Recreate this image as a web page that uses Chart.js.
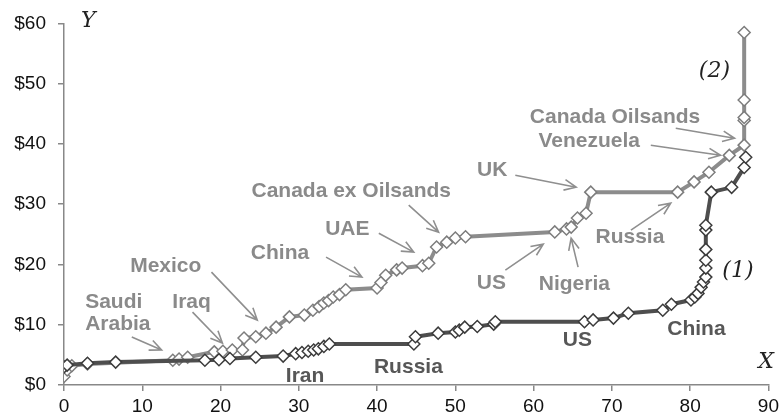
<!DOCTYPE html>
<html>
<head>
<meta charset="utf-8">
<script src="https://cdn.jsdelivr.net/npm/chart.js@4"></script>
<style>
  html, body { margin: 0; padding: 0; background: #fff; }
  #wrap { width: 783px; height: 415px; }
</style>
</head>
<body>
<div id="wrap"><canvas id="supplyChart" width="783" height="415"></canvas></div>
<script>
// series (1): dark curve
const xDark = [0, 0.4, 3, 6.6, 18, 19.8, 21.2, 24.5, 28, 29.6, 30.4, 31.2, 31.9, 32.5, 33.2, 33.9,
  44.7, 44.9, 47.8, 50, 50.5, 51.2, 52.8, 54.9, 55.1, 66.5, 67.6, 70.2, 72.1, 76.5, 77.6,
  80.1, 80.6, 81, 81.4, 81.7, 82, 82, 82, 82, 82, 82, 82.7, 85.3, 86.9, 87.1];
const yDark = [3.0, 3.3, 3.6, 3.8, 4.1, 4.2, 4.4, 4.6, 4.8, 5.2, 5.4, 5.6, 5.8, 6.0, 6.4, 6.8,
  6.8, 8.0, 8.6, 8.8, 9.1, 9.6, 9.7, 10.1, 10.5, 10.5, 10.8, 11.1, 11.9, 12.4, 13.4,
  14.1, 14.6, 15.2, 16.2, 17.1, 17.9, 19.4, 20.7, 22.5, 25.7, 26.5, 32, 32.8, 36.1, 37.8];

// series (2): light curve
const xLight = [0, 0.4, 1, 3, 13.9, 14.7, 15.8, 19.2, 20.3, 21.5, 22.8, 23, 24.5, 25.8, 27.1, 28.8, 30.7,
  31.8, 32.6, 33.2, 33.8, 34.4, 35.2, 36, 40, 40.5, 41.1, 42.5, 43.2, 45.8, 46.6, 47.6, 48.9, 50, 51.3,
  62.7, 64.2, 64.8, 65.6, 66.7, 67.3, 78.4, 80.5, 82.4, 85, 86.9, 86.9, 86.9, 86.9, 86.9];
const yLight = [1.4, 2.5, 3.2, 3.5, 4.1, 4.3, 4.6, 5.5, 5.6, 5.8, 5.8, 7.8, 8.0, 8.6, 9.6, 11.3, 11.6,
  12.4, 13.0, 13.6, 14.0, 14.6, 15.0, 15.8, 16.1, 17.0, 18.2, 19.1, 19.4, 19.8, 20.2, 22.9, 23.7, 24.4, 24.6,
  25.4, 25.9, 26.2, 27.7, 28.5, 32, 32, 33.7, 35.3, 38.1, 39.8, 43.9, 44.4, 47.3, 58.5];

const xTicks = [0, 10, 20, 30, 40, 50, 60, 70, 80, 90];
const yTicks = [0, 10, 20, 30, 40, 50, 60];

// callouts, anchored in data units
const notes = [
  { text: ['Saudi', 'Arabia'], at: [2.7, 13.7], align: 'left', tone: 'light', from: [8.66, 7.96], to: [12.47, 5.8] },
  { text: ['Iraq'], at: [16.3, 13.8], tone: 'light', from: [16.42, 12.1], to: [20.24, 6.96] },
  { text: ['Mexico'], at: [13.0, 19.7], tone: 'light', from: [18.84, 18.73], to: [24.69, 10.77] },
  { text: ['China'], at: [27.6, 21.9], tone: 'light', from: [33.48, 21.22], to: [38.06, 17.9] },
  { text: ['UAE'], at: [36.2, 25.9], tone: 'light', from: [40.22, 25.19], to: [44.68, 22.05] },
  { text: ['Canada ex Oilsands'], at: [36.7, 32.2], tone: 'light', from: [44.04, 29.84], to: [47.86, 25.36] },
  { text: ['UK'], at: [54.7, 35.6], tone: 'light', from: [57.66, 34.81], to: [65.43, 32.82] },
  { text: ['US'], at: [54.6, 16.9], tone: 'light', from: [56.39, 19.06], to: [61.23, 23.37] },
  { text: ['Nigeria'], at: [65.2, 16.7], tone: 'light', from: [65.68, 19.56], to: [64.79, 24.37] },
  { text: ['Russia'], at: [72.3, 24.5], tone: 'light', from: [72.43, 25.69], to: [77.52, 30.17] },
  { text: ['Canada Oilsands'], at: [70.4, 44.4], tone: 'light', from: [78.16, 42.6], to: [85.67, 40.94] },
  { text: ['Venezuela'], at: [67.1, 40.4], tone: 'light', from: [74.97, 39.78], to: [83.88, 38.12] },
  { text: ['Iran'], at: [30.8, 1.5], tone: 'dark' },
  { text: ['Russia'], at: [44.0, 3.0], tone: 'dark' },
  { text: ['US'], at: [65.6, 7.5], tone: 'dark' },
  { text: ['China'], at: [80.8, 9.3], tone: 'dark' }
];
const marks = [
  { text: 'Y', at: [3.1, 60.3] },
  { text: 'X', at: [89.7, 3.8] },
  { text: '(2)', at: [83.1, 52.0] },
  { text: '(1)', at: [86.1, 18.9] }
];

const toPoints = (xs, ys) => xs.map((x, i) => ({ x: x, y: ys[i] }));

const noteColors = { light: '#8a8a8a', dark: '#575757' };

function arrow(ctx, x1, y1, x2, y2) {
  const ang = Math.atan2(y2 - y1, x2 - x1);
  const len = 13, spread = 0.42;
  ctx.beginPath();
  ctx.moveTo(x1, y1);
  ctx.lineTo(x2, y2);
  ctx.moveTo(x2 - len * Math.cos(ang - spread), y2 - len * Math.sin(ang - spread));
  ctx.lineTo(x2, y2);
  ctx.lineTo(x2 - len * Math.cos(ang + spread), y2 - len * Math.sin(ang + spread));
  ctx.stroke();
}

const calloutPlugin = {
  id: 'callouts',
  afterDatasetsDraw(chart) {
    const ctx = chart.ctx;
    const sx = chart.scales.x, sy = chart.scales.y;
    ctx.save();
    ctx.lineWidth = 1.6;
    ctx.strokeStyle = '#8f8f8f';
    notes.forEach(n => {
      if (n.from) {
        arrow(ctx, sx.getPixelForValue(n.from[0]), sy.getPixelForValue(n.from[1]),
          sx.getPixelForValue(n.to[0]), sy.getPixelForValue(n.to[1]));
      }
    });
    ctx.font = 'bold 21px "Liberation Sans", Arial, sans-serif';
    ctx.textBaseline = 'middle';
    notes.forEach(n => {
      ctx.fillStyle = noteColors[n.tone];
      ctx.textAlign = n.align || 'center';
      const px = sx.getPixelForValue(n.at[0]);
      const py = sy.getPixelForValue(n.at[1]);
      n.text.forEach((line, i) => ctx.fillText(line, px, py + i * 22));
    });
    ctx.font = 'italic 22px "DejaVu Serif", serif';
    ctx.fillStyle = '#222';
    ctx.textAlign = 'center';
    marks.forEach(m => {
      ctx.fillText(m.text, sx.getPixelForValue(m.at[0]), sy.getPixelForValue(m.at[1]));
    });
    ctx.restore();
  }
};

const ctx = document.getElementById('supplyChart').getContext('2d');
new Chart(ctx, {
  type: 'line',
  data: {
    datasets: [
      {
        label: '(1)',
        data: toPoints(xDark, yDark),
        borderColor: '#4e4e4e',
        borderWidth: 4,
        pointStyle: 'rectRot',
        pointRadius: 6,
        pointBorderWidth: 1.5,
        pointBorderColor: '#3c3c3c',
        pointBackgroundColor: '#ffffff',
        tension: 0
      },
      {
        label: '(2)',
        data: toPoints(xLight, yLight),
        borderColor: '#8c8c8c',
        borderWidth: 4,
        pointStyle: 'rectRot',
        pointRadius: 6,
        pointBorderWidth: 1.5,
        pointBorderColor: '#7d7d7d',
        pointBackgroundColor: '#ffffff',
        tension: 0
      }
    ]
  },
  options: {
    responsive: false,
    animation: false,
    layout: { padding: { top: 23, right: 12, left: 0, bottom: 0 } },
    plugins: {
      legend: { display: false },
      tooltip: { enabled: false }
    },
    scales: {
      x: {
        type: 'linear',
        min: 0,
        max: 90,
        afterFit: (scale) => { scale.height = 30; },
        afterBuildTicks: (scale) => { scale.ticks = xTicks.map(v => ({ value: v })); },
        ticks: {
          color: '#111',
          font: { family: '"Liberation Sans", Arial, sans-serif', size: 19 },
          padding: 4,
          maxRotation: 0,
          autoSkip: false
        },
        grid: { drawOnChartArea: false, drawTicks: true, tickLength: 6, color: '#888', lineWidth: 1.5 },
        border: { display: true, color: '#888', width: 1.5 }
      },
      y: {
        type: 'linear',
        min: 0,
        max: 60,
        afterFit: (scale) => { scale.width = 64; },
        afterBuildTicks: (scale) => { scale.ticks = yTicks.map(v => ({ value: v })); },
        ticks: {
          color: '#111',
          font: { family: '"Liberation Sans", Arial, sans-serif', size: 19 },
          padding: 12,
          callback: (v) => '$' + v
        },
        grid: { drawOnChartArea: false, drawTicks: true, tickLength: 6, color: '#888', lineWidth: 1.5 },
        border: { display: true, color: '#888', width: 1.5 }
      }
    }
  },
  plugins: [calloutPlugin]
});
</script>
</body>
</html>
